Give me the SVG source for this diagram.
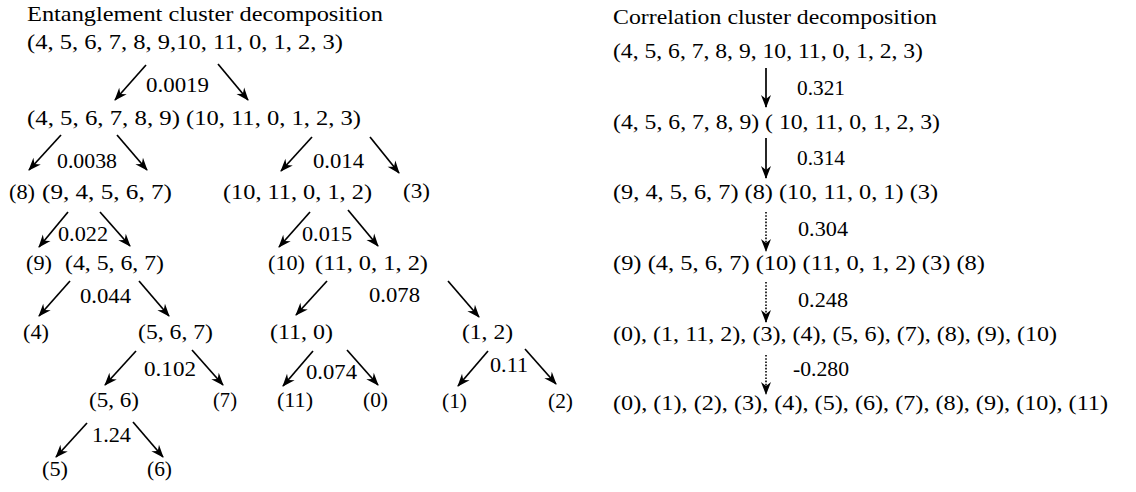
<svg xmlns="http://www.w3.org/2000/svg" width="1136" height="492" viewBox="0 0 1136 492">
<style>
text{font-family:"Liberation Serif","Times New Roman",serif;font-size:21px;fill:#000}
.a{stroke:#000;stroke-width:1.7;fill:none;marker-end:url(#ah)}
.d{stroke:#000;stroke-width:1.6;fill:none;stroke-dasharray:1.6 1.6;marker-end:url(#ah)}
</style>
<defs>
<marker id="ah" viewBox="-14 -7 16 14" refX="0" refY="0" markerWidth="16" markerHeight="14" markerUnits="userSpaceOnUse" orient="auto">
<path d="M1,0 L-12,-5 L-8,0 L-12,5 Z" fill="#000"/>
</marker>
</defs>
<rect width="1136" height="492" fill="#fff"/>
<g id="left-title"><text x="27" y="21" textLength="356" lengthAdjust="spacingAndGlyphs">Entanglement cluster decomposition</text></g>
<g id="e-root"><text x="27" y="49" textLength="316" lengthAdjust="spacingAndGlyphs">(4, 5, 6, 7, 8, 9,10, 11, 0, 1, 2, 3)</text></g>
<g id="e-l1a"><text x="27" y="125" textLength="153" lengthAdjust="spacingAndGlyphs">(4, 5, 6, 7, 8, 9)</text></g>
<g id="e-l1b"><text x="186" y="125" textLength="175" lengthAdjust="spacingAndGlyphs">(10, 11, 0, 1, 2, 3)</text></g>
<g id="e-8"><text x="9" y="199" textLength="26" lengthAdjust="spacingAndGlyphs">(8)</text></g>
<g id="e-94567"><text x="42" y="199" textLength="130" lengthAdjust="spacingAndGlyphs">(9, 4, 5, 6, 7)</text></g>
<g id="e-1011012"><text x="223" y="199" textLength="149" lengthAdjust="spacingAndGlyphs">(10, 11, 0, 1, 2)</text></g>
<g id="e-3"><text x="403" y="198" textLength="27" lengthAdjust="spacingAndGlyphs">(3)</text></g>
<g id="e-9"><text x="26" y="270" textLength="26" lengthAdjust="spacingAndGlyphs">(9)</text></g>
<g id="e-4567"><text x="65" y="270" textLength="99" lengthAdjust="spacingAndGlyphs">(4, 5, 6, 7)</text></g>
<g id="e-10"><text x="268" y="270" textLength="37" lengthAdjust="spacingAndGlyphs">(10)</text></g>
<g id="e-11012"><text x="315" y="270" textLength="113" lengthAdjust="spacingAndGlyphs">(11, 0, 1, 2)</text></g>
<g id="e-4"><text x="23" y="339" textLength="26" lengthAdjust="spacingAndGlyphs">(4)</text></g>
<g id="e-567"><text x="138" y="339" textLength="75" lengthAdjust="spacingAndGlyphs">(5, 6, 7)</text></g>
<g id="e-110"><text x="270" y="339" textLength="63" lengthAdjust="spacingAndGlyphs">(11, 0)</text></g>
<g id="e-12"><text x="462" y="339" textLength="51" lengthAdjust="spacingAndGlyphs">(1, 2)</text></g>
<g id="e-56"><text x="89" y="407" textLength="50" lengthAdjust="spacingAndGlyphs">(5, 6)</text></g>
<g id="e-7"><text x="213" y="407" textLength="24" lengthAdjust="spacingAndGlyphs">(7)</text></g>
<g id="e-11"><text x="277" y="407" textLength="36" lengthAdjust="spacingAndGlyphs">(11)</text></g>
<g id="e-0"><text x="363" y="407" textLength="25" lengthAdjust="spacingAndGlyphs">(0)</text></g>
<g id="e-1"><text x="442" y="408" textLength="25" lengthAdjust="spacingAndGlyphs">(1)</text></g>
<g id="e-2"><text x="548" y="408" textLength="25" lengthAdjust="spacingAndGlyphs">(2)</text></g>
<g id="e-5"><text x="42" y="476" textLength="26" lengthAdjust="spacingAndGlyphs">(5)</text></g>
<g id="e-6"><text x="147" y="476" textLength="25" lengthAdjust="spacingAndGlyphs">(6)</text></g>

<g id="right-title"><text x="613" y="24" textLength="324" lengthAdjust="spacingAndGlyphs">Correlation cluster decomposition</text></g>
<g id="c-r0"><text x="613" y="58" textLength="310" lengthAdjust="spacingAndGlyphs">(4, 5, 6, 7, 8, 9, 10, 11, 0, 1, 2, 3)</text></g>
<g id="c-r1"><text x="613" y="129" textLength="327" lengthAdjust="spacingAndGlyphs">(4, 5, 6, 7, 8, 9) ( 10, 11, 0, 1, 2, 3)</text></g>
<g id="c-r2"><text x="613" y="199" textLength="325" lengthAdjust="spacingAndGlyphs">(9, 4, 5, 6, 7) (8) (10, 11, 0, 1) (3)</text></g>
<g id="c-r3"><text x="613" y="270" textLength="372" lengthAdjust="spacingAndGlyphs">(9) (4, 5, 6, 7) (10) (11, 0, 1, 2) (3) (8)</text></g>
<g id="c-r4"><text x="613" y="341" textLength="444" lengthAdjust="spacingAndGlyphs">(0), (1, 11, 2), (3), (4), (5, 6), (7), (8), (9), (10)</text></g>
<g id="c-r5"><text x="613" y="410" textLength="495" lengthAdjust="spacingAndGlyphs">(0), (1), (2), (3), (4), (5), (6), (7), (8), (9), (10), (11)</text></g>

<g id="connectors">
<path class="a" d="M146,65 L115,100"/><path class="a" d="M218,64 L248,100"/>
<path class="a" d="M61,135 L29,170"/><path class="a" d="M117,135 L147,170"/>
<path class="a" d="M312,137 L281,171"/><path class="a" d="M370,137 L399,173"/>
<path class="a" d="M68,212 L39,247"/><path class="a" d="M100,212 L130,246"/>
<path class="a" d="M310,212 L279,247"/><path class="a" d="M348,210 L378,246"/>
<path class="a" d="M70,281 L39,316"/><path class="a" d="M139,281 L169,316"/>
<path class="a" d="M327,281 L296,315"/><path class="a" d="M448,281 L479,317"/>
<path class="a" d="M136,351 L105,385"/><path class="a" d="M192,350 L223,385"/>
<path class="a" d="M313,351 L283,386"/><path class="a" d="M347,350 L378,385"/>
<path class="a" d="M488,351 L458,386"/><path class="a" d="M525,349 L556,384"/>
<path class="a" d="M87,423 L56,457"/><path class="a" d="M133,422 L163,457"/>
<path class="a" d="M766,68 L766,107"/>
<path class="a" d="M766,138 L766,178"/>
<path class="d" d="M766,212 L766,251"/>
<path class="d" d="M766,282 L766,322"/>
<path class="d" d="M766,355 L766,394"/>
<g id="labels">
<text x="146" y="92" textLength="63" lengthAdjust="spacingAndGlyphs">0.0019</text>
<text x="57" y="168" textLength="60" lengthAdjust="spacingAndGlyphs">0.0038</text>
<text x="313" y="168" textLength="51" lengthAdjust="spacingAndGlyphs">0.014</text>
<text x="58" y="241" textLength="50" lengthAdjust="spacingAndGlyphs">0.022</text>
<text x="302" y="241" textLength="50" lengthAdjust="spacingAndGlyphs">0.015</text>
<text x="80" y="303" textLength="51" lengthAdjust="spacingAndGlyphs">0.044</text>
<text x="369" y="302" textLength="51" lengthAdjust="spacingAndGlyphs">0.078</text>
<text x="144" y="376" textLength="52" lengthAdjust="spacingAndGlyphs">0.102</text>
<text x="306" y="379" textLength="51" lengthAdjust="spacingAndGlyphs">0.074</text>
<text x="490" y="372" textLength="38" lengthAdjust="spacingAndGlyphs">0.11</text>
<text x="92" y="442" textLength="39" lengthAdjust="spacingAndGlyphs">1.24</text>
<text x="797" y="95" textLength="48" lengthAdjust="spacingAndGlyphs">0.321</text>
<text x="797" y="165" textLength="48" lengthAdjust="spacingAndGlyphs">0.314</text>
<text x="798" y="236" textLength="50" lengthAdjust="spacingAndGlyphs">0.304</text>
<text x="798" y="307" textLength="50" lengthAdjust="spacingAndGlyphs">0.248</text>
<text x="793" y="376" textLength="56" lengthAdjust="spacingAndGlyphs">-0.280</text>
</g>
</g>
</svg>
